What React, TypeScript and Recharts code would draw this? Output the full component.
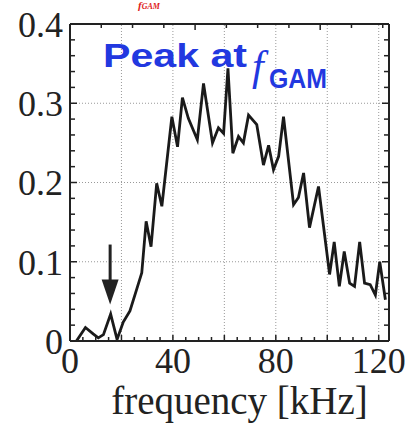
import React from 'react';
import { LineChart, Line, XAxis, YAxis, ReferenceLine, ReferenceDot } from 'recharts';

// spectrum
const freq = [
  2.5, 6.0, 9.0, 11.0, 13.0, 15.8, 18.3, 20.7, 23.3, 26.0, 27.9, 29.6, 31.5, 33.7, 35.7,
  39.6, 41.8, 43.7, 46.0, 49.5, 51.9, 55.4, 57.7, 59.7, 61.4, 63.3, 65.5, 67.4, 69.4,
  72.6, 75.2, 77.2, 79.1, 81.1, 83.0, 86.9, 88.8, 90.8, 93.1, 96.6, 100.9, 102.7, 104.7,
  106.6, 108.7, 110.6, 112.6, 114.5, 116.7, 118.7, 120.4, 122.6,
];
const power = [
  0.0, 0.017, 0.009, 0.004, 0.008, 0.034, 0.002, 0.024, 0.038, 0.066, 0.086, 0.151, 0.119,
  0.199, 0.17, 0.283, 0.245, 0.307, 0.281, 0.254, 0.325, 0.25, 0.269, 0.262, 0.344, 0.237,
  0.258, 0.25, 0.285, 0.273, 0.222, 0.247, 0.216, 0.233, 0.283, 0.172, 0.181, 0.212, 0.143,
  0.195, 0.084, 0.125, 0.069, 0.113, 0.073, 0.069, 0.125, 0.073, 0.071, 0.058, 0.1, 0.052,
];

const xLabels = [0, 40, 80, 120];
const yLabels = [0, 0.1, 0.2, 0.3, 0.4];
const xGrid = [20, 40, 60, 80, 100, 120];
const yGrid = [0.1, 0.2, 0.3];
const arrowAt = { freq: 15.6, power: 0.046 };

const xTicks = Array.from({ length: 25 }, (_, i) => i * 5);
const yTicks = Array.from({ length: 21 }, (_, i) => +(i * 0.02).toFixed(2));

const data = freq.map((f, i) => ({ freq: f, power: power[i] }));

const ink = '#222';
const serif = '"Liberation Serif", "Times New Roman", serif';
const sans = '"Liberation Sans", Arial, sans-serif';

const isMajorX = (v: number) => v % 20 === 0;
const isMajorY = (v: number) => Math.abs(v * 10 - Math.round(v * 10)) < 1e-6;

const BottomTick = (props: any) => {
  const { x, y, payload } = props;
  const v = payload.value;
  return (
    <g>
      <line x1={x} x2={x} y1={y} y2={y - (isMajorX(v) ? 6 : 4)} stroke={ink} strokeWidth={1.5} />
      {xLabels.includes(v) && (
        <text x={x} y={y + 32} textAnchor="middle" fontFamily={serif} fontSize={36} fill={ink}>
          {v}
        </text>
      )}
    </g>
  );
};

const TopTick = (props: any) => {
  const { x, y, payload } = props;
  return <line x1={x} x2={x} y1={y} y2={y + (isMajorX(payload.value) ? 6 : 4)} stroke={ink} strokeWidth={1.5} />;
};

const LeftTick = (props: any) => {
  const { x, y, payload } = props;
  const v = payload.value;
  return (
    <g>
      <line x1={x} x2={x + (isMajorY(v) ? 7 : 5)} y1={y} y2={y} stroke={ink} strokeWidth={1.5} />
      {yLabels.some((l) => Math.abs(l - v) < 1e-6) && (
        <text x={x - 7} y={y} dy="0.36em" textAnchor="end" fontFamily={serif} fontSize={36} fill={ink}>
          {String(v)}
        </text>
      )}
    </g>
  );
};

const RightTick = (props: any) => {
  const { x, y, payload } = props;
  return <line x1={x} x2={x - (isMajorY(payload.value) ? 7 : 5)} y1={y} y2={y} stroke={ink} strokeWidth={1.5} />;
};

const Arrow = (props: any) => {
  const { cx, cy } = props;
  return (
    <g>
      <line x1={cx} x2={cx} y1={cy - 60} y2={cy - 20} stroke={ink} strokeWidth={3} />
      <path d={`M${cx - 8.5},${cy - 25} L${cx + 8.5},${cy - 25} L${cx},${cy} Z`} fill={ink} />
    </g>
  );
};

export default function App() {
  return (
    <div style={{ position: 'absolute', left: 0, top: 0, width: 412, height: 427, background: '#fff' }}>
      <LineChart width={412} height={427} data={data} margin={{ top: 23, right: 22, left: 0, bottom: 0 }}>
        <XAxis
          dataKey="freq"
          type="number"
          domain={[0, 124]}
          ticks={xTicks}
          interval={0}
          allowDataOverflow
          height={86}
          tickSize={0}
          tickMargin={0}
          tickLine={false}
          axisLine={{ stroke: ink, strokeWidth: 2 }}
          tick={BottomTick}
          label={{ value: 'frequency [kHz]', position: 'insideBottom', offset: 13, dx: 10, fontFamily: serif, fontSize: 39, fill: ink }}
        />
        <XAxis
          xAxisId="top"
          orientation="top"
          type="number"
          domain={[0, 124]}
          ticks={xTicks}
          interval={0}
          allowDataOverflow
          height={1}
          tickSize={0}
          tickMargin={0}
          tickLine={false}
          axisLine={{ stroke: ink, strokeWidth: 2 }}
          tick={TopTick}
        />
        <YAxis
          type="number"
          domain={[0, 0.4]}
          ticks={yTicks}
          interval={0}
          allowDataOverflow
          width={70}
          tickSize={0}
          tickMargin={0}
          tickLine={false}
          axisLine={{ stroke: ink, strokeWidth: 2 }}
          tick={LeftTick}
        />
        <YAxis
          yAxisId="right"
          orientation="right"
          type="number"
          domain={[0, 0.4]}
          ticks={yTicks}
          interval={0}
          allowDataOverflow
          width={1}
          tickSize={0}
          tickMargin={0}
          tickLine={false}
          axisLine={{ stroke: ink, strokeWidth: 2 }}
          tick={RightTick}
        />
        {xGrid.map((v) => (
          <ReferenceLine key={'x' + v} x={v} stroke="#999" strokeWidth={1} strokeDasharray="1 2" />
        ))}
        {yGrid.map((v) => (
          <ReferenceLine key={'y' + v} y={v} stroke="#999" strokeWidth={1} strokeDasharray="1 2" />
        ))}
        <Line
          type="linear"
          dataKey="power"
          stroke="#1a1a1a"
          strokeWidth={2.8}
          strokeLinejoin="miter"
          dot={false}
          isAnimationActive={false}
        />
        <ReferenceDot x={arrowAt.freq} y={arrowAt.power} r={0} shape={Arrow} />
      </LineChart>
      <svg width={412} height={427} style={{ position: 'absolute', left: 0, top: 0, pointerEvents: 'none' }}>
        <text x={138} y={9} fontFamily={serif} fontStyle="italic" fontWeight="bold" fontSize={11} fill="#e02020">
          f<tspan fontSize={8}>GAM</tspan>
        </text>
        <text x={103} y={67} fontFamily={sans} fontWeight="bold" fontSize={34} fill="#2238e0" textLength={144} lengthAdjust="spacingAndGlyphs">
          Peak at
        </text>
        <text x={252} y={80} fontFamily={serif} fontStyle="italic" fontSize={42} fill="#2238e0">
          f
        </text>
        <text x={269} y={88} fontFamily={sans} fontWeight="bold" fontSize={28} fill="#2238e0" textLength={58} lengthAdjust="spacingAndGlyphs">
          GAM
        </text>
      </svg>
    </div>
  );
}
